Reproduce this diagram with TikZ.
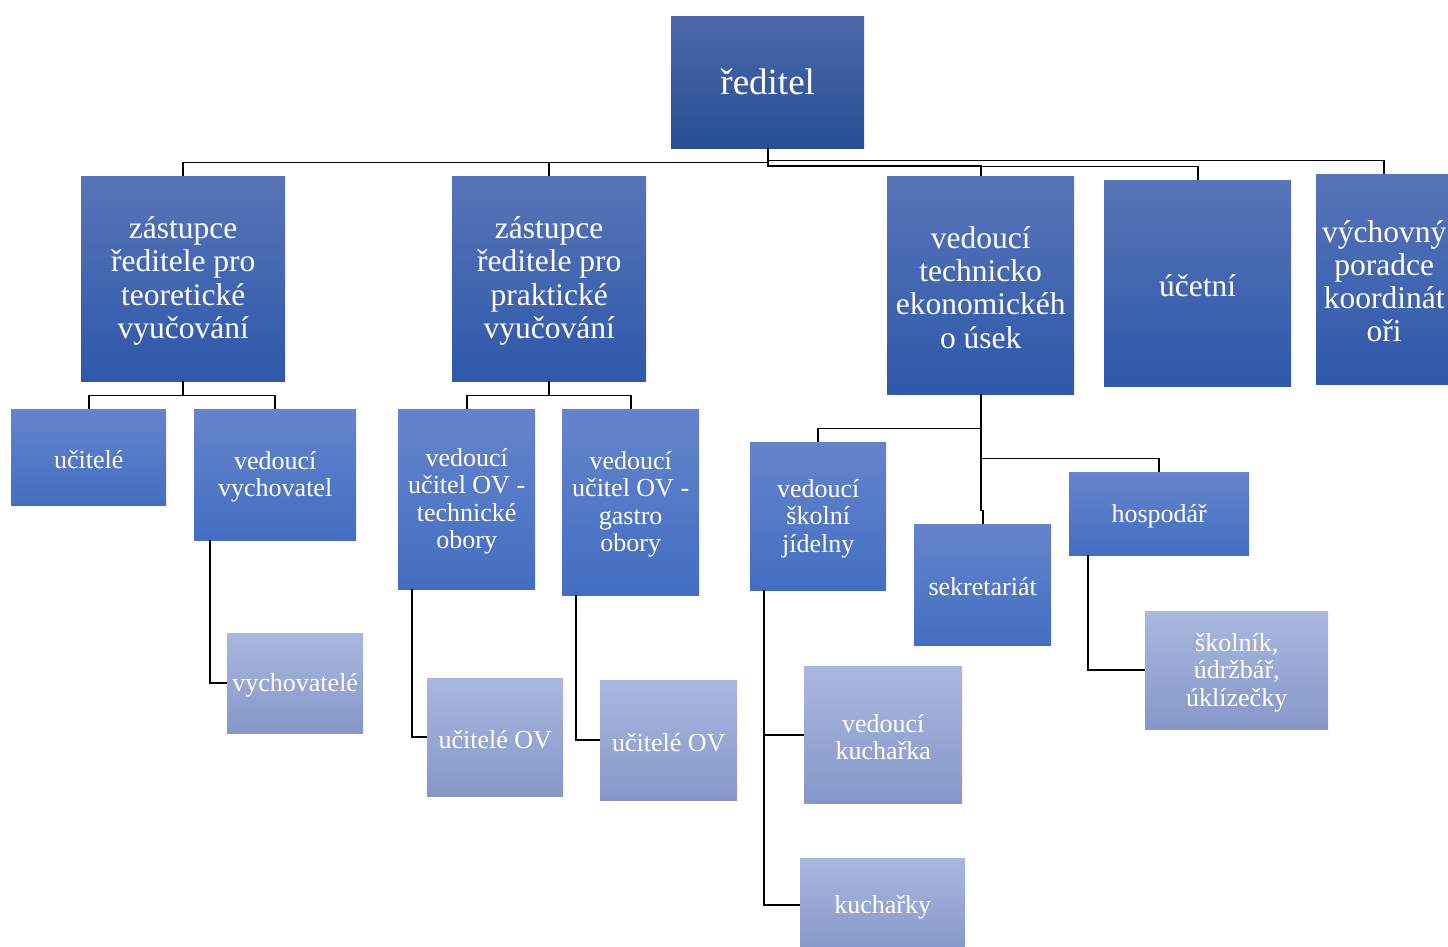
\documentclass[tikz,border=0pt]{standalone}
\usepackage{fontspec}
\setmainfont{Liberation Serif}
\definecolor{czt}{RGB}{76,104,170}
\definecolor{czm}{RGB}{48,84,156}
\definecolor{czb}{RGB}{40,78,150}
\definecolor{cat}{RGB}{88,116,184}
\definecolor{cab}{RGB}{46,88,170}
\definecolor{cbt}{RGB}{102,132,204}
\definecolor{cbb}{RGB}{66,110,194}
\definecolor{cct}{RGB}{170,183,223}
\definecolor{ccb}{RGB}{134,151,200}
\tikzset{
  box/.style={draw=none, inner sep=0pt, anchor=north west},
  lbl/.style={inner sep=0pt, align=center, text=white},
  lvlzero/.style={box, top color=czt, middle color=czm, bottom color=czb},
  lvlone/.style={box, top color=cat, bottom color=cab},
  lvltwo/.style={box, top color=cbt, bottom color=cbb},
  lvlthree/.style={box, top color=cct, bottom color=ccb},
  fzero/.style={lbl, yshift=2.6pt, font=\fontsize{37}{40}\selectfont},
  fone/.style={lbl, font=\fontsize{31.5}{33.2}\selectfont},
  ftwo/.style={lbl, font=\fontsize{26}{27.5}\selectfont},
  conn/.style={draw=black, line width=1.6pt}
}
\newcommand\bx[8]{\node[#2, minimum width={#5-#3}, minimum height={#6-#4}] (#1) at (#3,#4) {};
  \node[#7] (#1-t) at ([yshift=-2.2pt]#1.center) {#8};}
\begin{document}
\begin{tikzpicture}[x=1pt,y=-1pt]
\useasboundingbox (0,0) rectangle (1448,947);
\bx{red}{lvlzero}{671}{16}{864}{148}{fzero}{ředitel}
\bx{ztv}{lvlone}{81}{176}{285}{381}{fone}{zástupce\\ředitele pro\\teoretické\\vyučování}
\bx{zpv}{lvlone}{452}{176}{646}{381}{fone}{zástupce\\ředitele pro\\praktické\\vyučování}
\bx{teu}{lvlone}{887}{176}{1074}{394}{fone}{vedoucí\\technicko\\ekonomickéh\\o úsek}
\bx{uce}{lvlone}{1104}{180}{1291}{386}{fone}{účetní}
\bx{vych}{lvlone}{1316}{174}{1452}{384}{fone}{výchovný\\poradce\\koordinát\\oři}
\bx{uci}{lvltwo}{11}{409}{166}{505}{ftwo}{učitelé}
\bx{vv}{lvltwo}{194}{409}{356}{540}{ftwo}{vedoucí\\vychovatel}
\bx{ovt}{lvltwo}{398}{409}{535}{589}{ftwo}{vedoucí\\učitel OV -\\technické\\obory}
\bx{ovg}{lvltwo}{562}{409}{699}{595}{ftwo}{vedoucí\\učitel OV -\\gastro\\obory}
\bx{sj}{lvltwo}{750}{442}{886}{590}{ftwo}{vedoucí\\školní\\jídelny}
\bx{sek}{lvltwo}{914}{524}{1051}{645}{ftwo}{sekretariát}
\bx{hos}{lvltwo}{1069}{472}{1249}{555}{ftwo}{hospodář}
\bx{vyc}{lvlthree}{227}{633}{363}{733}{ftwo}{vychovatelé}
\bx{uovt}{lvlthree}{427}{678}{563}{796}{ftwo}{učitelé OV}
\bx{uovg}{lvlthree}{600}{680}{737}{800}{ftwo}{učitelé OV}
\bx{vk}{lvlthree}{804}{666}{962}{803}{ftwo}{vedoucí\\kuchařka}
\bx{kuch}{lvlthree}{800}{858}{965}{952}{ftwo}{kuchařky}
\bx{sko}{lvlthree}{1145}{611}{1328}{729}{ftwo}{školník,\\údržbář,\\úklízečky}
% connectors
\draw[conn] (red.south) -- ++(0,14) -| (ztv.north);
\draw[conn] (red.south) -- ++(0,14) -| (zpv.north);
\draw[conn] (red.south) -- ++(0,17) -| (teu.north);
\draw[conn] (red.south) -- ++(0,18) -| (uce.north);
\draw[conn] (red.south) -- ++(0,12) -| (vych.north);
\draw[conn] (ztv.south) -- ++(0,14) -| (uci.north);
\draw[conn] (ztv.south) -- ++(0,14) -| (vv.north);
\draw[conn] (zpv.south) -- ++(0,14) -| (ovt.north);
\draw[conn] (zpv.south) -- ++(0,14) -| (ovg.north);
\draw[conn] (teu.south) -- ++(0,34) -| (sj.north);
\draw[conn] (teu.south) -- ++(0,64) -| (hos.north);
\draw[conn] (teu.south) -- ++(0,116) -| (sek.north);
\draw[conn] ([xshift=16pt]vv.south west) |- (vyc.west);
\draw[conn] ([xshift=14pt]ovt.south west) |- (uovt.west);
\draw[conn] ([xshift=14pt]ovg.south west) |- (uovg.west);
\draw[conn] ([xshift=14pt]sj.south west) |- (vk.west);
\draw[conn] ([xshift=14pt]sj.south west) |- (kuch.west);
\draw[conn] ([xshift=19pt]hos.south west) |- (sko.west);
\end{tikzpicture}
\end{document}
